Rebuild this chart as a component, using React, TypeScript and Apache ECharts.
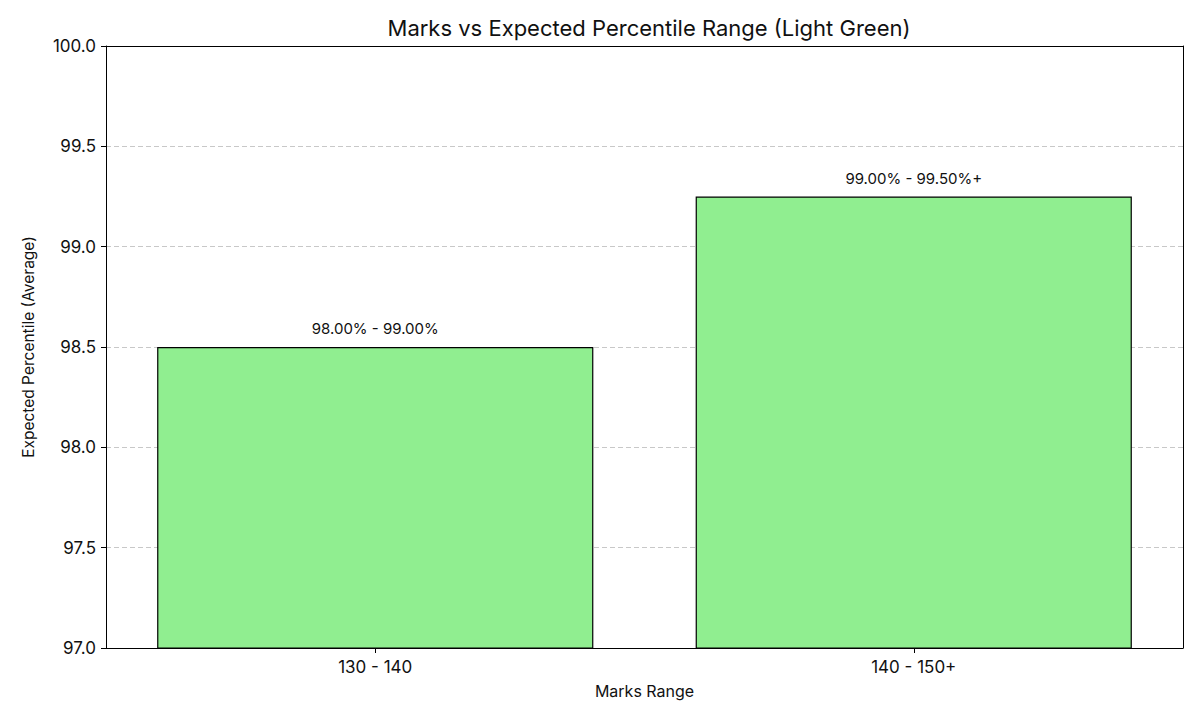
import React, { useEffect, useRef } from "react";
import * as echarts from "echarts";

const categories = ["130 - 140", "140 - 150+"];
const averages = [98.5, 99.25];
const rangeLabels = ["98.00% - 99.00%", "99.00% - 99.50%+"];
const yTicks = [97.0, 97.5, 98.0, 98.5, 99.0, 99.5, 100.0];

const FONT = "Inter, 'Noto Sans', sans-serif";

export default function App() {
  const ref = useRef<HTMLDivElement>(null);
  useEffect(() => {
    if (!ref.current) return;
    const chart = echarts.init(ref.current, null, { renderer: "svg" });
    const frameAxis = {
      axisLine: { show: true, onZero: false, lineStyle: { color: "#000", width: 1 } },
      axisTick: { show: false },
      axisLabel: { show: false },
      splitLine: { show: false },
    };
    chart.setOption({
      animation: false,
      textStyle: { fontFamily: FONT },
      title: {
        text: "Marks vs Expected Percentile Range (Light Green)",
        left: 636,
        textAlign: "center",
        top: 4,
        textStyle: { fontFamily: FONT, fontSize: 22, fontWeight: "normal", color: "#111" },
      },
      grid: {
        left: 98,
        right: 9,
        top: 38,
        bottom: 64,
        show: false,
      },
      xAxis: [
        {
          type: "category",
          data: categories,
          boundaryGap: true,
          name: "Marks Range",
          nameLocation: "middle",
          nameGap: 35,
          nameTextStyle: { fontFamily: FONT, fontSize: 16, color: "#111" },
          axisLine: { show: true, lineStyle: { color: "#000", width: 1 } },
          axisTick: { show: true, alignWithLabel: true, length: 5, lineStyle: { color: "#000" } },
          axisLabel: { fontFamily: FONT, fontSize: 17, color: "#111", margin: 10 },
          splitLine: { show: false },
          z: 5,
        },
        { type: "category", data: categories, position: "top", ...frameAxis, z: 5 },
      ],
      yAxis: [
        {
          type: "value",
          min: 97.0,
          max: 100.0,
          interval: 0.5,
          name: "Expected Percentile (Average)",
          nameLocation: "middle",
          nameGap: 70,
          nameTextStyle: { fontFamily: FONT, fontSize: 15.5, color: "#111" },
          axisLine: { show: true, lineStyle: { color: "#000", width: 1 } },
          axisTick: { show: true, length: 5, lineStyle: { color: "#000" } },
          axisLabel: {
            fontFamily: FONT,
            fontSize: 17,
            color: "#111",
            margin: 10,
            formatter: (v: number) => {
              const t = yTicks.find((x) => Math.abs(x - v) < 1e-6);
              return (t ?? v).toFixed(1);
            },
          },
          splitLine: {
            show: true,
            lineStyle: { color: "#c8c8c8", type: [5, 3], width: 1 },
          },
        },
        { type: "value", min: 97.0, max: 100.0, interval: 0.5, position: "right", ...frameAxis, z: 5 },
      ],
      series: [
        {
          type: "bar",
          data: averages,
          barWidth: "81%",
          itemStyle: { color: "#90EE90", borderColor: "#000", borderWidth: 1.2 },
          label: {
            show: true,
            position: "top",
            distance: 11,
            fontFamily: FONT,
            fontSize: 15,
            color: "#111",
            formatter: (p: any) => rangeLabels[p.dataIndex],
          },
        },
      ],
    });
    return () => chart.dispose();
  }, []);
  return <div ref={ref} style={{ width: 1184, height: 704 }} />;
}
